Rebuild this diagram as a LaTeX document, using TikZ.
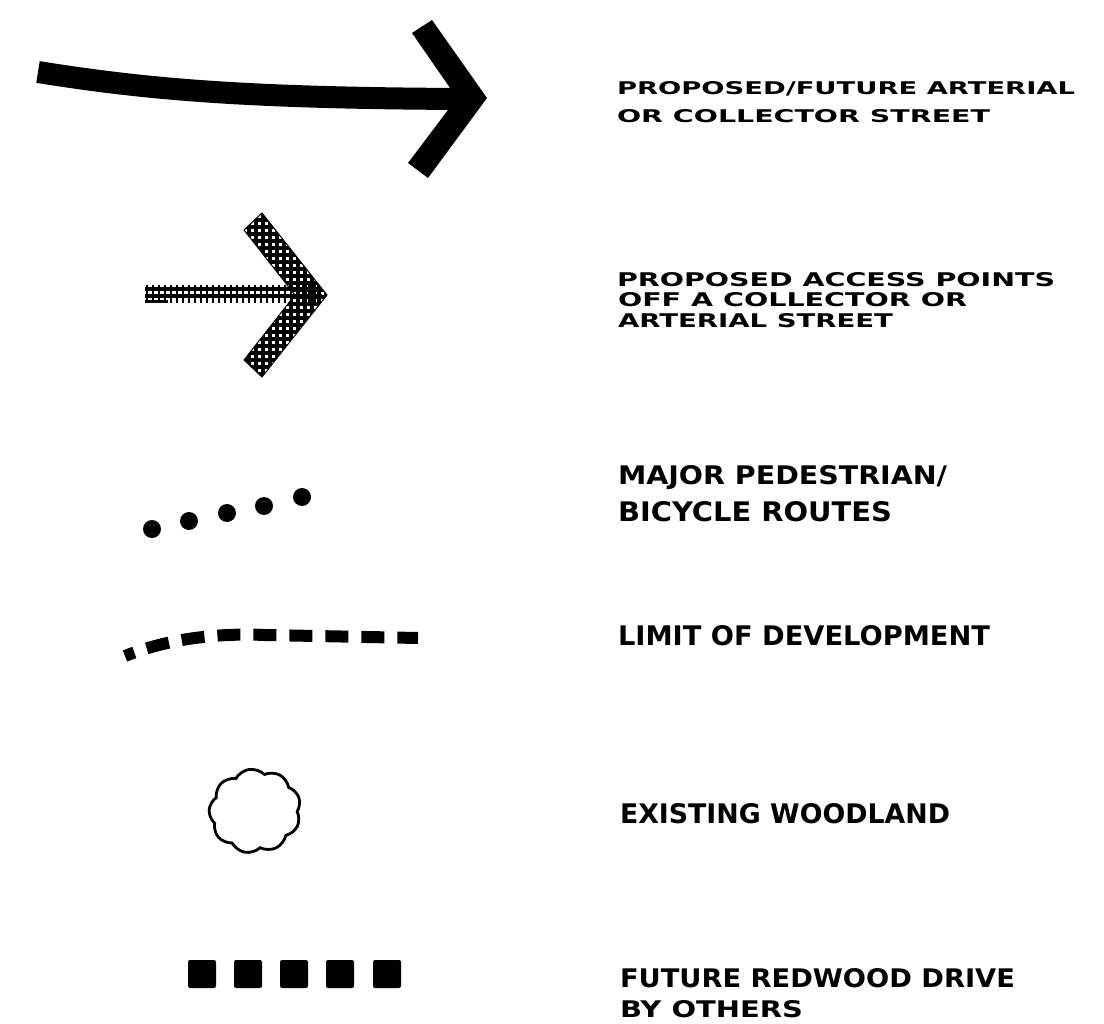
\documentclass[tikz,border=0pt]{standalone}
\usepackage{fontspec}
\setmainfont{DejaVu Sans}
\usetikzlibrary{shapes.symbols}
\newcommand{\legline}[3]{\resizebox{#1pt}{#2pt}{\raisebox{0pt}[\height][0pt]{#3}}}
\begin{document}
\begin{tikzpicture}[x=1pt,y=-1pt,
  legtxt/.style={anchor=south west, inner sep=0pt, outer sep=0pt, font=\bfseries},
  hatch/.style={line width=3.1pt, black},
  dotmark/.style={fill=black},
  sqmark/.style={fill=black, rounded corners=2pt},
  woods/.style={cloud, cloud puffs=9, cloud puff arc=105, draw=black, line width=2.8pt,
                minimum width=92pt, minimum height=84pt, inner sep=0pt, aspect=1.1}]
\useasboundingbox (0,0) rectangle (1104,1024);
\fill[white] (0,0) rectangle (1104,1024);

% --- 1: big arrow
\draw[line width=22pt] (38,72) .. controls (150,90) and (250,98) .. (462,99);
\fill (412,33) -- (432,20) -- (487,98) -- (428,178) -- (408,163) -- (457,98) -- cycle;

% --- 2: cross-hatched arrow
\begin{scope}
  \clip (244,230) -- (262,213) -- (327,295) -- (262,377) -- (244,360) -- (295,295) -- cycle;
  \foreach \x in {235,242,...,335} \draw[hatch] (\x,205) -- (\x,385);
  \foreach \y in {206,213,...,385} \draw[hatch] (235,\y) -- (335,\y);
\end{scope}
\draw[line width=1pt] (244,230) -- (262,213) -- (327,295) -- (262,377) -- (244,360) -- (295,295) -- cycle;
\begin{scope}
  \clip (145,285) rectangle (322,304);
  \draw[hatch] (145,289) -- (322,289);
  \draw[hatch] (145,296) -- (322,296);
  \foreach \x in {147,153,...,320} \draw[line width=1.8pt] (\x,285) -- (\x,303);
  \draw[hatch] (145,301.5) -- (168,301.5);
\end{scope}

% --- 3: dots
\foreach \p in {(152,529),(189,521),(227,513),(264,506),(302,497)}
  \fill[dotmark] \p circle[radius=9];

% --- 4: dashed limit
\draw[line width=12pt, dash pattern=on 23pt off 13pt, dash phase=13pt]
  (125,656) .. controls (170,638) and (220,633) .. (265,635) -- (418,638);

% --- 5: woodland cloud
\node[woods, rotate=8] (wood) at (255,811) {};

% --- 6: squares
\foreach \cx in {202,248,294,340,387}
  \fill[sqmark] (\cx-14,960) rectangle (\cx+14,988);

% --- labels
\node[legtxt] (t1a) at (617,95)  {\legline{458}{13}{PROPOSED/FUTURE ARTERIAL}};
\node[legtxt] (t1b) at (617,123) {\legline{373}{13}{OR COLLECTOR STREET}};
\node[legtxt] (t2a) at (617,287) {\legline{438}{14}{PROPOSED ACCESS POINTS}};
\node[legtxt] (t2b) at (618,307) {\legline{349}{14}{OFF A COLLECTOR OR}};
\node[legtxt] (t2c) at (618,328) {\legline{275}{14}{ARTERIAL STREET}};
\node[legtxt] (t3a) at (618,485) {\legline{329}{19}{MAJOR PEDESTRIAN/}};
\node[legtxt] (t3b) at (618,521) {\legline{274}{20}{BICYCLE ROUTES}};
\node[legtxt] (t4)  at (618,645) {\legline{372}{20}{LIMIT OF DEVELOPMENT}};
\node[legtxt] (t5)  at (620,823) {\legline{330}{20}{EXISTING WOODLAND}};
\node[legtxt] (t6a) at (620,987) {\legline{395}{19}{FUTURE REDWOOD DRIVE}};
\node[legtxt] (t6b) at (620,1017){\legline{183}{17}{BY OTHERS}};
\end{tikzpicture}
\end{document}
